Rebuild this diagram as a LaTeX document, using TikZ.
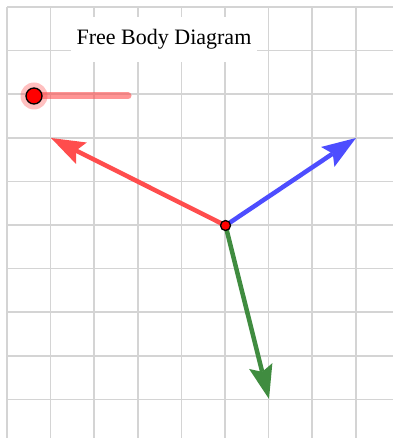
\documentclass[tikz,border=0pt]{standalone}
\usepackage{fontspec}
\setmainfont{Liberation Serif}
\usetikzlibrary{arrows.meta}
\definecolor{gridgray}{RGB}{212,212,212}
\definecolor{fred}{RGB}{255,77,77}
\definecolor{fblue}{RGB}{77,77,255}
\definecolor{fgreen}{RGB}{64,140,64}
\tikzset{
  gridline/.style={draw=gridgray, line width=1.6pt},
  force/.style={line width=4.5pt, -{Stealth[length=34pt, width=24pt, inset=6pt, line width=0pt]}},
  pointdot/.style={circle, fill=red, draw=black, line width=1.3pt, inner sep=0pt},
}
\begin{document}
\begin{tikzpicture}[x=1pt,y=-1pt]
\useasboundingbox (0,0) rectangle (393,438);
\fill[white] (0,0) rectangle (393,438);
% grid
\foreach \k in {0,...,8} {
  \draw[gridline] ({7+43.6*\k},7) -- ({7+43.6*\k},438);
}
\foreach \k in {0,...,9} {
  \draw[gridline] (7,{7+43.6*\k}) -- (393,{7+43.6*\k});
}
% title
\node[fill=white, minimum width=186pt, minimum height=45pt, inner sep=0pt, font=\fontsize{22}{26}\selectfont] (title) at (164,39.5) {Free Body Diagram};
% slider
\coordinate (sstart) at (34,96);
\coordinate (send) at (128,96);
\draw[fred, opacity=0.6, line width=7pt, line cap=round] (sstart) -- (send);
\fill[fred, opacity=0.35] (sstart) circle (13.5pt);
\node[pointdot, minimum size=16pt] (sp) at (sstart) {};
% forces
\coordinate (O) at (225.5,225.5);
\coordinate (tr) at (51,138);
\coordinate (tb) at (356,138);
\coordinate (tg) at (269,399);
\draw[force, fred] (O) -- (tr);
\draw[force, fblue] (O) -- (tb);
\draw[force, fgreen] (O) -- (tg);
\node[pointdot, minimum size=10pt] (center) at (O) {};
\end{tikzpicture}
\end{document}
